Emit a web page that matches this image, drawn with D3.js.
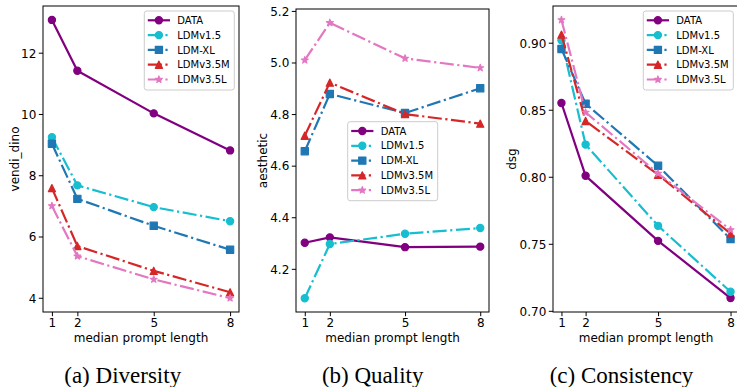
<!DOCTYPE html>
<html>
<head>
<meta charset="utf-8">
<script src="https://cdn.jsdelivr.net/npm/d3@7"></script>
<style>
  body { margin: 0; background: #fff; }
  svg { display: block; }
</style>
</head>
<body>
<svg id="fig" width="737" height="387"></svg>
<script>
// ---- data ----
const promptLengths = [1, 2, 5, 8];
const xTickValues = [1, 2, 5, 8];

const seriesNames = ["DATA", "LDMv1.5", "LDM-XL", "LDMv3.5M", "LDMv3.5L"];
const seriesColors = ["#800080", "#17becf", "#1f77b4", "#d62728", "#e377c2"];
const seriesMarkers = ["circle", "circle", "square", "triangle", "star"];
const seriesDashed = [false, true, true, true, true];

// (a) diversity: vendi_dino
const diversityDATA = [13.07, 11.41, 10.02, 8.81];
const diversityLDMv15 = [9.24, 7.67, 6.96, 6.50];
const diversityLDMXL = [9.03, 7.23, 6.35, 5.57];
const diversityLDMv35M = [7.58, 5.69, 4.88, 4.18];
const diversityLDMv35L = [7.00, 5.36, 4.60, 3.99];
const diversityTicks = [4, 6, 8, 10, 12];

// (b) quality: aesthetic
const qualityDATA = [4.301, 4.322, 4.284, 4.286];
const qualityLDMv15 = [4.086, 4.296, 4.336, 4.358];
const qualityLDMXL = [4.656, 4.878, 4.804, 4.900];
const qualityLDMv35M = [4.716, 4.922, 4.800, 4.763];
const qualityLDMv35L = [5.009, 5.154, 5.016, 4.979];
const qualityTicks = [4.2, 4.4, 4.6, 4.8, 5.0, 5.2];

// (c) consistency: dsg
const consistencyDATA = [0.855, 0.8007, 0.7522, 0.7095];
const consistencyLDMv15 = [0.9018, 0.824, 0.7634, 0.7142];
const consistencyLDMXL = [0.8953, 0.8545, 0.8082, 0.7535];
const consistencyLDMv35M = [0.906, 0.8416, 0.8015, 0.7576];
const consistencyLDMv35L = [0.917, 0.848, 0.8025, 0.7604];
const consistencyTicks = [0.70, 0.75, 0.80, 0.85, 0.90];

// ---- layout ----
const panels = [
  {
    ylabel: "vendi_dino", caption: "(a) Diversity",
    series: [diversityDATA, diversityLDMv15, diversityLDMXL, diversityLDMv35M, diversityLDMv35L],
    yTicks: diversityTicks, fmt: d3.format("d"),
    box: { left: 43, right: 239, top: 6, bottom: 312 },
    legend: { x: 144.3, y: 11 }, captionX: 122.7, ylabelX: 19
  },
  {
    ylabel: "aesthetic", caption: "(b) Quality",
    series: [qualityDATA, qualityLDMv15, qualityLDMXL, qualityLDMv35M, qualityLDMv35L],
    yTicks: qualityTicks, fmt: d3.format(".1f"),
    box: { left: 296, right: 489, top: 9, bottom: 312 },
    legend: { x: 347.7, y: 121.7 }, captionX: 372.7, ylabelX: 267
  },
  {
    ylabel: "dsg", caption: "(c) Consistency",
    series: [consistencyDATA, consistencyLDMv15, consistencyLDMXL, consistencyLDMv35M, consistencyLDMv35L],
    yTicks: consistencyTicks, fmt: d3.format(".2f"),
    box: { left: 553, right: 739, top: 6, bottom: 312 },
    legend: { x: 643.3, y: 11 }, captionX: 621.5, ylabelX: 516
  }
];

const LW = 2.2;
const MS = 7.2;      // marker size
const MEW = 1.2;     // marker edge width
const dashDot = [6.4, 1.6, 1.0, 1.6].map(d => d * LW).join(",");
const sansFont = "DejaVu Sans, sans-serif";

function markerPath(kind, s) {
  const r = s / 2;
  if (kind === "square") return `M${-r},${-r}H${r}V${r}H${-r}Z`;
  if (kind === "triangle") return `M0,${-r}L${-r},${r}L${r},${r}Z`;
  if (kind === "star") {
    const pts = [];
    for (let i = 0; i < 10; i++) {
      const rad = i % 2 === 0 ? r : r * 0.381966;
      const a = Math.PI / 2 + i * Math.PI / 5;
      pts.push([rad * Math.cos(a), -rad * Math.sin(a)]);
    }
    return "M" + pts.map(p => p.join(",")).join("L") + "Z";
  }
  // circle
  return `M${r},0A${r},${r} 0 1,1 ${-r},0A${r},${r} 0 1,1 ${r},0Z`;
}

const svg = d3.select("#fig");

panels.forEach(p => {
  const b = p.box;
  const x = d3.scaleLinear().domain([0.65, 8.35]).range([b.left, b.right]);
  const [lo, hi] = d3.extent(p.series.flat());
  const pad = (hi - lo) * 0.05;
  const y = d3.scaleLinear().domain([lo - pad, hi + pad]).range([b.bottom, b.top]);

  const g = svg.append("g");

  // series lines + markers
  p.series.forEach((vals, i) => {
    const pts = promptLengths.map((d, k) => [d, vals[k]]);
    const line = d3.line().x(d => x(d[0])).y(d => y(d[1]));
    const sg = g.append("g");
    sg.append("path")
      .attr("d", line(pts))
      .attr("fill", "none")
      .attr("stroke", seriesColors[i])
      .attr("stroke-width", LW)
      .attr("stroke-linejoin", "round")
      .attr("stroke-dasharray", seriesDashed[i] ? dashDot : null);
    sg.selectAll(".m").data(pts).join("path")
      .attr("transform", d => `translate(${x(d[0])},${y(d[1])})`)
      .attr("d", markerPath(seriesMarkers[i], MS))
      .attr("fill", seriesColors[i])
      .attr("stroke", seriesColors[i])
      .attr("stroke-width", MEW)
      .attr("stroke-linejoin", "round");
  });

  // axes
  const xAxis = g.append("g")
    .attr("transform", `translate(0,${b.bottom})`)
    .call(d3.axisBottom(x).tickValues(xTickValues).tickFormat(d3.format("d"))
      .tickSize(4.2).tickSizeOuter(0).tickPadding(2.5));
  const yAxis = g.append("g")
    .attr("transform", `translate(${b.left},0)`)
    .call(d3.axisLeft(y).tickValues(p.yTicks).tickFormat(p.fmt)
      .tickSize(4.2).tickSizeOuter(0).tickPadding(2.5));
  [xAxis, yAxis].forEach(ax => {
    ax.attr("font-family", sansFont).attr("font-size", 12);
    ax.select(".domain").remove();
    ax.selectAll(".tick line").attr("stroke", "#000").attr("stroke-width", 1);
    ax.selectAll(".tick text").attr("fill", "#000");
  });
  yAxis.selectAll(".tick text").attr("dy", "0.36em");

  // frame
  g.append("rect")
    .attr("x", b.left).attr("y", b.top)
    .attr("width", b.right - b.left).attr("height", b.bottom - b.top)
    .attr("fill", "none").attr("stroke", "#000").attr("stroke-width", 1);

  // axis labels
  g.append("text")
    .attr("x", (b.left + b.right) / 2).attr("y", 342)
    .attr("text-anchor", "middle")
    .attr("font-family", sansFont).attr("font-size", 12)
    .text("median prompt length");
  g.append("text")
    .attr("transform", `translate(${p.ylabelX},${(b.top + b.bottom) / 2}) rotate(-90)`)
    .attr("text-anchor", "middle")
    .attr("font-family", sansFont).attr("font-size", 12)
    .text(p.ylabel);

  // legend
  const L = p.legend;
  const lg = g.append("g").attr("transform", `translate(${L.x},${L.y})`);
  lg.append("rect")
    .attr("width", 90).attr("height", 79).attr("rx", 2.5)
    .attr("fill", "#fff").attr("fill-opacity", 0.8)
    .attr("stroke", "#cccccc").attr("stroke-width", 1);
  seriesNames.forEach((name, i) => {
    const ey = 9.3 + 14.8 * i;
    lg.append("line")
      .attr("x1", 3.5).attr("x2", 25.7).attr("y1", ey).attr("y2", ey)
      .attr("stroke", seriesColors[i]).attr("stroke-width", LW)
      .attr("stroke-dasharray", seriesDashed[i] ? dashDot : null);
    lg.append("path")
      .attr("transform", `translate(14.6,${ey})`)
      .attr("d", markerPath(seriesMarkers[i], MS))
      .attr("fill", seriesColors[i])
      .attr("stroke", seriesColors[i]).attr("stroke-width", MEW)
      .attr("stroke-linejoin", "round");
    lg.append("text")
      .attr("x", 33).attr("y", ey).attr("dy", "0.36em")
      .attr("font-family", sansFont).attr("font-size", 10)
      .text(name);
  });

  // caption
  svg.append("text")
    .attr("x", p.captionX).attr("y", 383)
    .attr("text-anchor", "middle")
    .attr("font-family", "Liberation Serif, Times New Roman, serif")
    .attr("font-size", 23)
    .text(p.caption);
});
</script>
</body>
</html>
